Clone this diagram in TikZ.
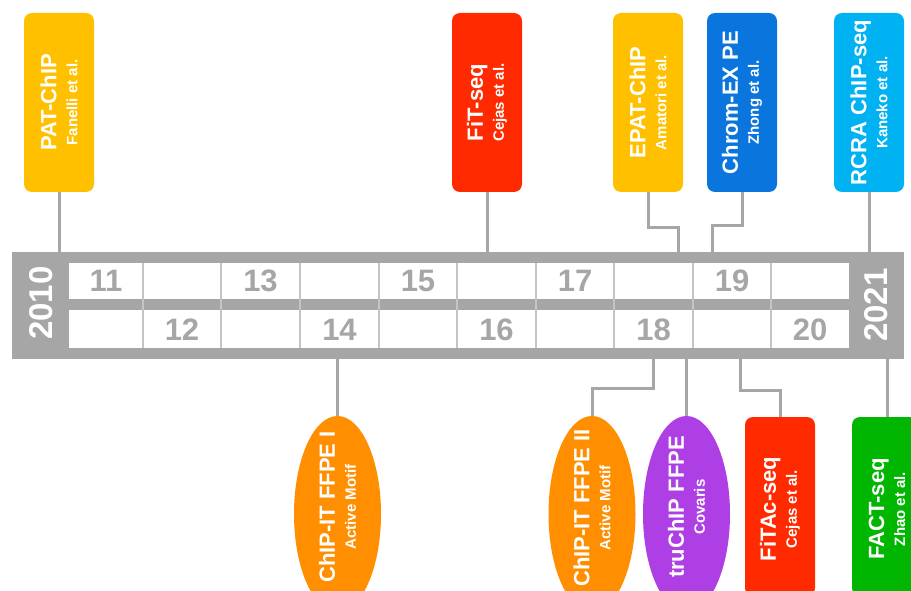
\documentclass[tikz,border=0pt]{standalone}
\usepackage{fontspec}
\setmainfont{Liberation Sans}
\usetikzlibrary{shapes.geometric}

\definecolor{barGray}{HTML}{A6A6A6}
\definecolor{sepGray}{HTML}{C4C4C4}
\definecolor{amber}{HTML}{FFC000}
\definecolor{fireRed}{HTML}{FF2A00}
\definecolor{royalBlue}{HTML}{0A75DC}
\definecolor{skyBlue}{HTML}{00B2F2}
\definecolor{deepOrange}{HTML}{FF8F00}
\definecolor{violet}{HTML}{AE3FE5}
\definecolor{leafGreen}{HTML}{00B600}

\newcommand\headsz{\fontsize{22}{21}\selectfont}

\begin{document}
\begin{tikzpicture}[x=1pt, y=-1pt,
  conn/.style={draw=barGray, line width=3pt},
  card/.style={rectangle, rounded corners=8pt, minimum width=70pt,
    minimum height=179pt, inner sep=0pt},
  pill/.style={ellipse, minimum width=87pt, minimum height=196pt, inner sep=0pt},
  tag/.style={rotate=90, text=white, align=center, inner sep=0pt,
    font=\bfseries\fontsize{15}{21}\selectfont},
  yearnum/.style={text=barGray, inner sep=0pt,
    font=\bfseries\fontsize{31}{31}\selectfont},
  yearend/.style={text=white, rotate=90, inner sep=0pt,
    font=\bfseries\fontsize{33}{33}\selectfont},
  sep/.style={draw=sepGray, line width=1.2pt}]

\useasboundingbox (0,0) rectangle (911,591);
\clip (0,0) rectangle (911,591);

% timeline bar
\node[fill=barGray, minimum width=892pt, minimum height=107pt, inner sep=0pt,
  anchor=north west] (bar) at (12,252) {};
\fill[white] (69,263) rectangle (849,299);
\fill[white] (69,310) rectangle (849,348);
\foreach \x in {143,221,300,379,457,536,614,693,771}
  \draw[sep] (\x,263) -- (\x,348);

\node[yearend] (y2010) at (41,303) {2010};
\node[yearend] (y2021) at (876,305) {2021};

\node[yearnum] (n11) at (106,281) {11};
\node[yearnum] (n13) at (260.5,281) {13};
\node[yearnum] (n15) at (418,281) {15};
\node[yearnum] (n17) at (575,281) {17};
\node[yearnum] (n19) at (732,281) {19};
\node[yearnum] (n12) at (182,329.5) {12};
\node[yearnum] (n14) at (339.5,329.5) {14};
\node[yearnum] (n16) at (496.5,329.5) {16};
\node[yearnum] (n18) at (653.5,329.5) {18};
\node[yearnum] (n20) at (810,329.5) {20};

% methods above the bar
\node[card, fill=amber] (pat) at (59,102.5) {};
\node[card, fill=fireRed] (fit) at (487,102.5) {};
\node[card, fill=amber] (epat) at (648,102.5) {};
\node[card, fill=royalBlue] (chrom) at (742,102.5) {};
\node[card, fill=skyBlue] (rcra) at (869,102.5) {};

\node[tag] (patT) at (pat.center) {{\headsz PAT-ChIP}\\Fanelli et al.};
\node[tag] (fitT) at (fit.center) {{\headsz FiT-seq}\\Cejas et al.};
\node[tag] (epatT) at (epat.center) {{\headsz EPAT-ChIP}\\Amatori et al.};
\node[tag] (chromT) at (chrom.center) {{\headsz Chrom-EX PE}\\Zhong et al.};
\node[tag] (rcraT) at (rcra.center) {{\headsz RCRA ChIP-seq}\\Kaneko et al.};

\coordinate (epatFoot) at (678,252);
\coordinate (chromFoot) at (712,252);
\draw[conn] (pat.south) -- (pat.south |- bar.north);
\draw[conn] (fit.south) -- (fit.south |- bar.north);
\draw[conn] (epat.south) -- ++(0,35) -| (epatFoot);
\draw[conn] (chrom.south) -- ++(0,33) -| (chromFoot);
\draw[conn] (rcra.south) -- (rcra.south |- bar.north);

% methods below the bar
\node[pill, fill=deepOrange] (chip1) at (337.5,514) {};
\node[pill, fill=deepOrange] (chip2) at (592,514) {};
\node[pill, fill=violet] (truchip) at (686.5,514) {};
\node[card, fill=fireRed] (fitac) at (780,506.5) {};
\node[card, fill=leafGreen] (fact) at (887,506.5) {};

\node[tag] (chip1T) at (337.5,507) {{\headsz ChIP-IT FFPE I}\\Active Motif};
\node[tag] (chip2T) at (592,508) {{\headsz ChIP-IT FFPE II}\\Active Motif};
\node[tag] (truchipT) at (686.5,507) {{\headsz truChIP FFPE}\\Covaris};
\node[tag] (fitacT) at (780,509) {{\headsz FiTAc-seq}\\Cejas et al.};
\node[tag] (factT) at (887,509) {{\headsz FACT-seq}\\Zhao et al.};

\coordinate (chip2Foot) at (653,359);
\coordinate (fitacFoot) at (740,359);
\draw[conn] (chip1.north |- bar.south) -- (chip1.north);
\draw[conn] (chip2.north) -- ++(0,-27) -| (chip2Foot);
\draw[conn] (truchip.north |- bar.south) -- (truchip.north);
\draw[conn] (fitac.north) -- ++(0,-26) -| (fitacFoot);
\draw[conn] (fact.north |- bar.south) -- (fact.north);

\end{tikzpicture}
\end{document}
